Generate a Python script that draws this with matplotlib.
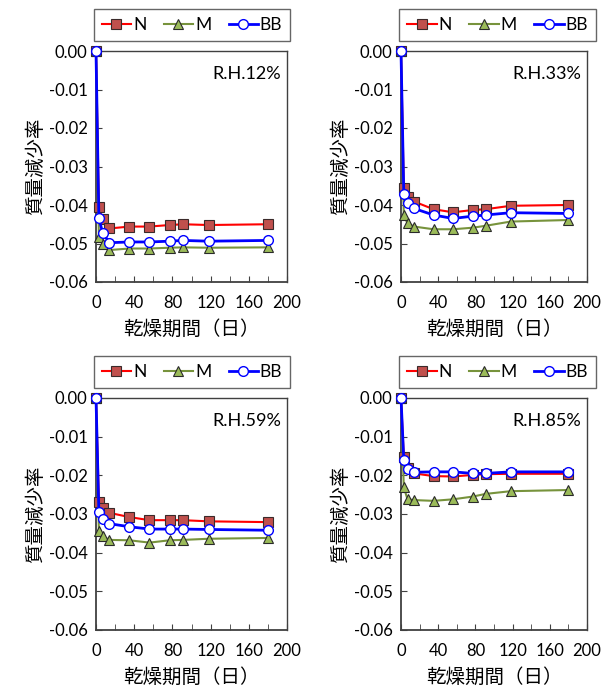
import matplotlib
matplotlib.use("Agg")
import matplotlib.pyplot as plt
from matplotlib.ticker import MultipleLocator, FixedLocator

plt.rcParams['font.family'] = ['Lato', 'Noto Sans CJK JP', 'DejaVu Sans']

days = [0, 3, 7, 14, 35, 56, 77, 91, 118, 180]

rh_labels = ["R.H.12%", "R.H.33%", "R.H.59%", "R.H.85%"]

n_12 = [0.0, -0.0406, -0.0437, -0.0461, -0.0456, -0.0456, -0.0452, -0.0450, -0.0452, -0.0450]
m_12 = [0.0, -0.0482, -0.0500, -0.0517, -0.0513, -0.0513, -0.0511, -0.0510, -0.0511, -0.0510]
bb_12 = [0.0, -0.0435, -0.0472, -0.0498, -0.0496, -0.0496, -0.0494, -0.0492, -0.0494, -0.0492]

n_33 = [0.0, -0.0355, -0.0378, -0.0391, -0.0411, -0.0419, -0.0413, -0.0411, -0.0402, -0.0400]
m_33 = [0.0, -0.0426, -0.0448, -0.0456, -0.0463, -0.0463, -0.0459, -0.0454, -0.0443, -0.0439]
bb_33 = [0.0, -0.0372, -0.0394, -0.0409, -0.0426, -0.0435, -0.0429, -0.0426, -0.0420, -0.0422]

n_59 = [0.0, -0.0268, -0.0285, -0.0297, -0.0308, -0.0316, -0.0316, -0.0316, -0.0319, -0.0321]
m_59 = [0.0, -0.0344, -0.0358, -0.0367, -0.0368, -0.0374, -0.0368, -0.0367, -0.0364, -0.0362]
bb_59 = [0.0, -0.0295, -0.0312, -0.0325, -0.0333, -0.0339, -0.0339, -0.0339, -0.0340, -0.0342]

n_85 = [0.0, -0.0152, -0.0182, -0.0195, -0.0202, -0.0203, -0.0199, -0.0197, -0.0196, -0.0196]
m_85 = [0.0, -0.0231, -0.0262, -0.0264, -0.0266, -0.0262, -0.0255, -0.0248, -0.0241, -0.0238]
bb_85 = [0.0, -0.0160, -0.0184, -0.0192, -0.0191, -0.0191, -0.0195, -0.0195, -0.0191, -0.0191]

series_names = ["N", "M", "BB"]
y_ticks = [0.00, -0.01, -0.02, -0.03, -0.04, -0.05, -0.06]
x_ticks = [0, 40, 80, 120, 160, 200]
ylabel = "質量減少率"
xlabel = "乾燥期間（日）"

panels = [
    (n_12, m_12, bb_12),
    (n_33, m_33, bb_33),
    (n_59, m_59, bb_59),
    (n_85, m_85, bb_85),
]

W, H = 609, 693
fig = plt.figure(figsize=(W / 100, H / 100), dpi=100)

# axes boxes in pixels: left, top, right, bottom
boxes = [
    (96, 51, 287, 282),
    (401, 51, 587, 282),
    (96, 398, 287, 630),
    (401, 398, 587, 630),
]
legend_boxes = [
    (95, 9, 289, 41),
    (403, 9, 592, 41),
    (95, 357, 289, 387),
    (403, 357, 592, 387),
]

styles = [
    dict(color='#FF0000', lw=1.5, marker='s', ms=7, mfc='#C0504D', mec='#3a2a2a', mew=0.8),
    dict(color='#77933C', lw=1.5, marker='^', ms=7, mfc='#9BBB59', mec='#2a2a2a', mew=0.8),
    dict(color='#0000FF', lw=2.0, marker='o', ms=7, mfc='white', mec='#0000FF', mew=1.0),
]

for i, (data, box, lbox) in enumerate(zip(panels, boxes, legend_boxes)):
    l, t, r, b = box
    ax = fig.add_axes([l / W, 1 - b / H, (r - l) / W, (b - t) / H])
    handles = []
    for vals, name, st in zip(data, series_names, styles):
        h, = ax.plot(days, vals, label=name, clip_on=False, zorder=3, **st)
        handles.append(h)
    ax.set_xlim(0, 200)
    ax.set_ylim(-0.06, 0.0)
    ax.yaxis.set_major_locator(FixedLocator(y_ticks))
    ax.set_yticklabels([f"{v:.2f}" for v in y_ticks])
    ax.xaxis.set_major_locator(FixedLocator(x_ticks))
    ax.xaxis.set_minor_locator(MultipleLocator(20))
    ax.tick_params(axis='both', which='both', direction='in', labelsize=12, colors='#404040', labelcolor='black')
    ax.tick_params(axis='x', which='major', length=4, pad=9)
    ax.tick_params(axis='x', which='minor', length=4)
    ax.tick_params(axis='y', which='major', length=4, pad=6)
    for sp in ax.spines.values():
        sp.set_color('#404040')
        sp.set_linewidth(1.0)
    ax.spines['left'].set_linewidth(1.3)
    ax.spines['bottom'].set_linewidth(1.3)
    ax.set_ylabel(ylabel, fontsize=14, family=['Noto Sans CJK JP'], labelpad=2)
    ax.set_xlabel(xlabel, fontsize=14, family=['Noto Sans CJK JP'], labelpad=6)
    ax.text(0.97, 0.9, rh_labels[i], transform=ax.transAxes, ha='right', va='center', fontsize=13)
    ll, lt, lr, lb = lbox
    leg = fig.legend(handles=handles, loc='center',
                     bbox_to_anchor=((ll + lr) / 2 / W, 1 - (lt + lb) / 2 / H),
                     ncol=3, fontsize=12.5, frameon=True, fancybox=False,
                     handlelength=1.7, handletextpad=0.1, columnspacing=1.0,
                     borderpad=0.45, borderaxespad=0, edgecolor='#404040')
    leg.get_frame().set_linewidth(1.0)

fig.savefig("out.png", dpi=100)
